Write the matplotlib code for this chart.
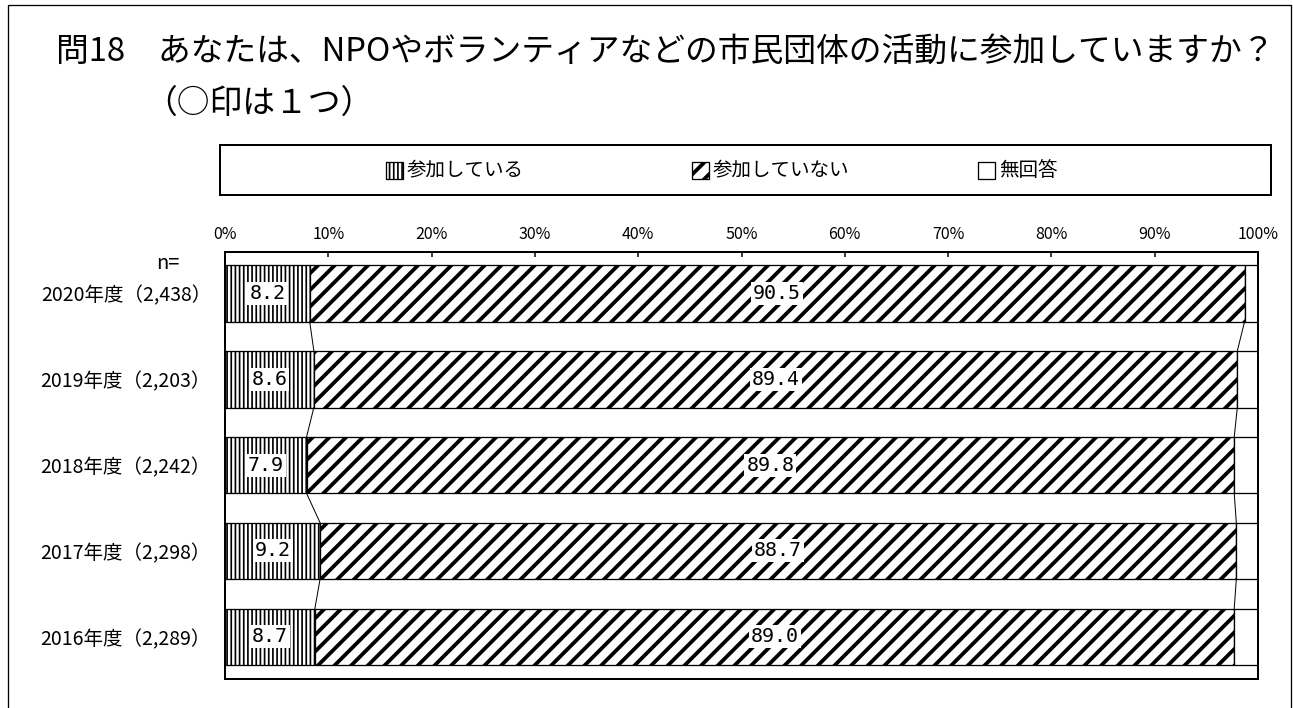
import matplotlib
matplotlib.use('Agg')
import matplotlib.pyplot as plt
from matplotlib.patches import Rectangle
from matplotlib.lines import Line2D
import numpy as np

plt.rcParams['font.family'] = ['Noto Sans CJK JP', 'DejaVu Sans']

W, H = 1293, 708
DPI = 100
k = 72 / DPI  # pixel -> point

# data
years = ['2020年度（2,438）', '2019年度（2,203）', '2018年度（2,242）',
         '2017年度（2,298）', '2016年度（2,289）']
sanka = np.array([8.2, 8.6, 7.9, 9.2, 8.7])
fusanka = np.array([90.5, 89.4, 89.8, 88.7, 89.0])
mukaitou = np.array([1.3, 2.0, 2.3, 2.1, 2.3])
series_names = ['参加している', '参加していない', '無回答']
xticks = np.arange(0, 101, 10)


def px(x, y):
    return x / W, 1 - y / H


fig = plt.figure(figsize=(W / DPI, H / DPI), dpi=DPI)

# outer frame (open at the bottom)
x0, y0 = px(8, 5)
x1, y1 = px(1291, 712)
fig.add_artist(Line2D([x0, x0, x1, x1], [y1, y0, y0, y1], color='k', lw=1.3 * k,
                      transform=fig.transFigure))

# title
fig.text(*px(56, 52), '問18　あなたは、NPOやボランティアなどの市民団体の活動に参加していますか？',
         fontsize=32.8 * k, va='center', ha='left')
fig.text(*px(144, 104), '（○印は１つ）', fontsize=32.8 * k, va='center', ha='left')

# axes
l, t = px(225, 252)
r, b = px(1258, 679)
ax = fig.add_axes([l, b, r - l, t - b])

ypos = np.arange(len(years))
bh = 0.66
hatches = ['||||', '//', None]
hlw = [1.7 * k, 3.8 * k, 1.0 * k]
vals = [sanka, fusanka, mukaitou]
left = np.zeros(len(years))
for v, hatch, lw_h, name in zip(vals, hatches, hlw, series_names):
    plt.rcParams['hatch.linewidth'] = lw_h
    bars = ax.barh(ypos, v, left=left, height=bh, color='white', edgecolor='k',
                   lw=1.3 * k, hatch=hatch, label=name)
    for p in bars:
        if hasattr(p, 'set_hatch_linewidth'):
            p.set_hatch_linewidth(lw_h)
    left = left + v

# value labels
for i in range(len(years)):
    for v, start in [(sanka[i], 0), (fusanka[i], sanka[i])]:
        ax.text(start + v / 2, ypos[i], f'{v:.1f}', ha='center', va='center',
                fontsize=20 * k, family=['DejaVu Sans Mono'],
                bbox=dict(facecolor='white', edgecolor='none', pad=2 * k))

# connector lines between bars
cum1 = sanka
cum2 = sanka + fusanka
for i in range(len(years) - 1):
    for c in (cum1, cum2):
        ax.plot([c[i], c[i + 1]], [ypos[i] + bh / 2, ypos[i + 1] - bh / 2],
                color='k', lw=1.0 * k)

ax.set_xlim(0, 100)
ax.set_ylim(4.49, -0.48)
ax.xaxis.tick_top()
ax.set_xticks(xticks)
ax.set_xticklabels([f'{x}%' for x in xticks], fontsize=16 * k)
ax.tick_params(axis='x', direction='in', length=5 * k, width=1.5 * k, pad=9 * k)
ax.set_yticks(ypos)
ax.set_yticklabels(years, fontsize=19.5 * k)
ax.tick_params(axis='y', length=0, pad=14 * k)
for s in ax.spines.values():
    s.set_linewidth(2 * k)
fig.text(*px(168, 263), 'n=', fontsize=20 * k, ha='center', va='center')

# legend box
lx0, ly0 = px(220, 195)
lx1, ly1 = px(1271, 145)
fig.add_artist(Rectangle((lx0, ly0), lx1 - lx0, ly1 - ly0, fill=False,
                         edgecolor='k', lw=2 * k, transform=fig.transFigure))
leg_x = [386, 692, 978]
plt.rcParams['hatch.linewidth'] = 1.2 * k
for x, hatch, lw_h, name in zip(leg_x, hatches, hlw, series_names):
    sx, sy = px(x, 179)
    sw = 17 / W
    sh = 17 / H
    rect = Rectangle((sx, sy), sw, sh, facecolor='white', edgecolor='k', lw=1.3 * k,
                     hatch=hatch, transform=fig.transFigure)
    if hasattr(rect, 'set_hatch_linewidth'):
        rect.set_hatch_linewidth(lw_h)
    fig.add_artist(rect)
    fig.text(*px(x + 21, 170), name, fontsize=19.5 * k, ha='left', va='center')

fig.savefig('out.png', dpi=DPI)
